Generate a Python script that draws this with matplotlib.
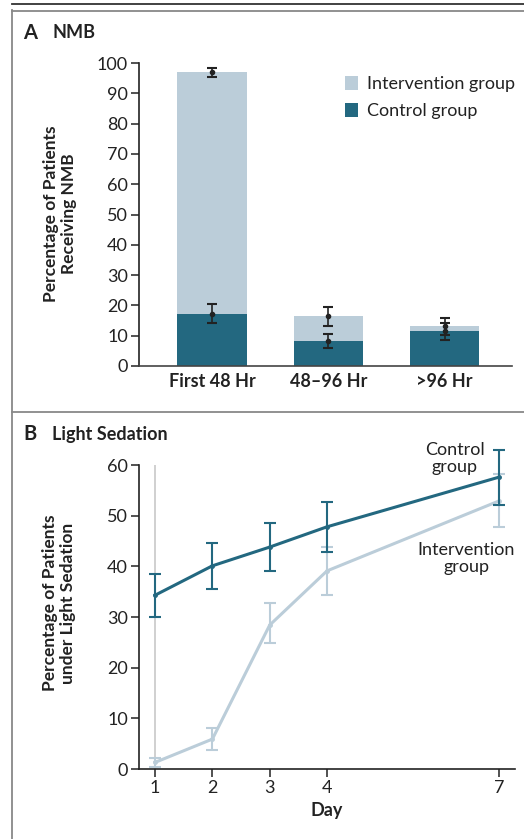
import matplotlib
matplotlib.use("Agg")
import matplotlib.pyplot as plt
from matplotlib.lines import Line2D
import numpy as np

plt.rcParams['font.family'] = ['Lato', 'DejaVu Sans']

# ---- Panel A data ----
periods = ["First 48 Hr", "48\u201396 Hr", ">96 Hr"]
nmb_intervention = [97.0, 16.5, 13.2]
nmb_intervention_lo = [95.4, 13.3, 10.2]
nmb_intervention_hi = [98.4, 19.6, 15.9]
nmb_control = [17.1, 8.2, 11.4]
nmb_control_lo = [14.2, 5.9, 8.6]
nmb_control_hi = [20.6, 10.7, 14.3]

# ---- Panel B data ----
days = [1, 2, 3, 4, 7]
sed_control = [34.3, 40.1, 43.8, 47.8, 57.6]
sed_control_lo = [30.0, 35.6, 39.1, 42.8, 52.1]
sed_control_hi = [38.5, 44.6, 48.5, 52.6, 63.0]
sed_intervention = [1.3, 5.9, 28.4, 39.1, 52.9]
sed_intervention_lo = [0.3, 3.8, 24.8, 34.3, 47.7]
sed_intervention_hi = [2.2, 8.1, 32.7, 43.9, 58.2]
day1_guide = (0, 60)

C_DARK = "#236880"
C_LIGHT = "#BBCDD9"
C_ERR = "#222222"
TXT = "#222222"

W, H = 524, 839
fig = plt.figure(figsize=(W / 100, H / 100), dpi=100)

def fx(px):
    return px / W

def fy(py):
    return 1 - py / H

# frame lines
fig.add_artist(Line2D([fx(12), 1], [fy(4), fy(4)], color="#333333", lw=1.3))
fig.add_artist(Line2D([fx(12), 1], [fy(10.5), fy(10.5)], color="#888888", lw=1.3))
fig.add_artist(Line2D([fx(12), fx(12)], [fy(10), 0], color="#888888", lw=1.3))
fig.add_artist(Line2D([fx(12), 1], [fy(412), fy(412)], color="#888888", lw=1.3))

TICK_FS = 13
LAB_FS = 12.5

# ---------------- Panel A ----------------
axA = fig.add_axes([fx(139), fy(366), fx(512) - fx(139), fy(63) - fy(366)])
x = np.arange(len(periods))
bw = 0.6
axA.bar(x, nmb_intervention, width=bw, color=C_LIGHT, zorder=1, label="Intervention group")
axA.bar(x, nmb_control, width=bw, color=C_DARK, zorder=2, label="Control group")

def errs(vals, lo, hi):
    v = np.array(vals); return [v - np.array(lo), np.array(hi) - v]

axA.errorbar(x, nmb_intervention, yerr=errs(nmb_intervention, nmb_intervention_lo, nmb_intervention_hi),
             fmt="o", ms=3, color=C_ERR, ecolor=C_ERR, elinewidth=1.2, capsize=3.5, capthick=1.5, zorder=4)
axA.errorbar(x, nmb_control, yerr=errs(nmb_control, nmb_control_lo, nmb_control_hi),
             fmt="o", ms=3, color=C_ERR, ecolor=C_ERR, elinewidth=1.2, capsize=3.5, capthick=1.5, zorder=4)

axA.set_xlim(-0.63, 2.58)
axA.set_ylim(0, 100)
axA.set_yticks(np.arange(0, 101, 10))
axA.set_xticks(x)
axA.set_xticklabels(periods, fontsize=LAB_FS + 0.5, fontweight="bold", color=TXT)
axA.tick_params(axis="x", length=0, pad=5)
axA.tick_params(axis="y", length=6, width=1.1, labelsize=TICK_FS, labelcolor=TXT, color=TXT, pad=2)
for s in ["top", "right"]:
    axA.spines[s].set_visible(False)
axA.spines["left"].set_linewidth(1.2)
axA.spines["bottom"].set_linewidth(1.2)
axA.spines["left"].set_color(TXT)
axA.spines["bottom"].set_color("#444444")

leg = axA.legend(loc="upper left", bbox_to_anchor=(0.518, 1.0), frameon=False, fontsize=13,
                 handlelength=0.75, handleheight=0.85, handletextpad=0.5, labelspacing=0.6,
                 borderaxespad=0.3)
for t in leg.get_texts():
    t.set_color(TXT)

fig.text(fx(60), fy(214), "Percentage of Patients\nReceiving NMB", rotation=90, ha="center", va="center",
         fontsize=LAB_FS, fontweight="bold", color=TXT, linespacing=1.1)
fig.text(fx(23), fy(33), "A", fontsize=14.5, fontweight="bold", color=TXT, va="center")
fig.text(fx(52), fy(33), "NMB", fontsize=13, fontweight="bold", color=TXT, va="center")

# ---------------- Panel B ----------------
axB = fig.add_axes([fx(139), fy(769), fx(515) - fx(139), fy(465) - fy(769)])
axB.vlines(days[0], day1_guide[0], day1_guide[1], color="#c8c8c8", lw=1.2, zorder=0)
axB.errorbar(days, sed_intervention, yerr=errs(sed_intervention, sed_intervention_lo, sed_intervention_hi),
             fmt="-o", ms=2.5, lw=2.2, color=C_LIGHT, ecolor=C_LIGHT, elinewidth=1.5, capsize=4, capthick=1.5, zorder=2)
ebc = axB.errorbar(days, sed_control, yerr=errs(sed_control, sed_control_lo, sed_control_hi),
             fmt="-o", ms=2.5, lw=2.2, color=C_DARK, ecolor=C_DARK, elinewidth=1.5, capsize=4, capthick=1.5, zorder=3)
for art in list(ebc.lines[1]) + list(ebc.lines[2]):
    art.set_clip_on(False)
axB.set_xlim(0.72, 7.28)
axB.set_ylim(0, 60)
axB.set_yticks(np.arange(0, 61, 10))
axB.set_xticks(days)
axB.tick_params(axis="both", length=6, width=1.1, labelsize=TICK_FS, labelcolor=TXT, color=TXT, pad=2)
for s in ["top", "right"]:
    axB.spines[s].set_visible(False)
axB.spines["left"].set_linewidth(1.2)
axB.spines["bottom"].set_linewidth(1.2)
axB.spines["left"].set_color(TXT)
axB.spines["bottom"].set_color(TXT)
axB.set_xlabel("Day", fontsize=LAB_FS + 0.5, fontweight="bold", color=TXT, labelpad=4)

axB.text(6.23, 61.3, "Control\ngroup", ha="center", va="center", fontsize=13, color=TXT, linespacing=1.1)
axB.text(6.43, 41.5, "Intervention\ngroup", ha="center", va="center", fontsize=13, color=TXT, linespacing=1.1)

fig.text(fx(59), fy(603), "Percentage of Patients\nunder Light Sedation", rotation=90, ha="center", va="center",
         fontsize=LAB_FS, fontweight="bold", color=TXT, linespacing=1.1)
fig.text(fx(23), fy(434), "B", fontsize=14.5, fontweight="bold", color=TXT, va="center")
fig.text(fx(52), fy(434), "Light Sedation", fontsize=13, fontweight="bold", color=TXT, va="center")

fig.savefig("out.png", dpi=100)
